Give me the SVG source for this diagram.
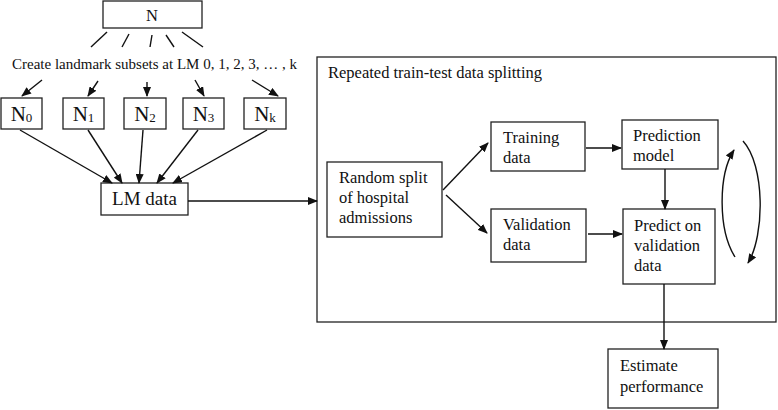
<svg xmlns="http://www.w3.org/2000/svg" width="778" height="410" viewBox="0 0 778 410">
<defs>
<marker id="ah" markerUnits="userSpaceOnUse" markerWidth="10" markerHeight="8" refX="9" refY="4" orient="auto">
<path d="M0,0 L10,4 L0,8 z" fill="#111"/>
</marker>
<style>
.box{fill:#fff;stroke:#222;stroke-width:1.3}
.t{font-family:"Liberation Serif","Times New Roman",serif;font-size:16.5px;fill:#111}
.big{font-size:21px}
.sub{font-size:13px}
.ln{stroke:#111;stroke-width:1.4;fill:none}
.ar{stroke:#111;stroke-width:1.4;fill:none;marker-end:url(#ah)}
</style>
</defs>
<rect width="778" height="410" fill="#fff"/>

<g id="container">
<rect class="box" x="317" y="57" width="459" height="265"/>
<text class="t" x="328" y="78">Repeated train-test data splitting</text>
</g>

<g id="node-N">
<rect class="box" x="103" y="1" width="99" height="27"/>
<text class="t" x="152" y="21" text-anchor="middle" style="font-size:16.5px">N</text>
</g>

<g id="label-create">
<text class="t" x="12" y="69" style="font-size:15px">Create landmark subsets at LM 0, 1, 2, 3, … , k</text>
</g>

<g id="node-N0">
<rect class="box" x="1" y="98" width="41" height="31"/>
<text class="t big" x="21.5" y="121" text-anchor="middle">N<tspan class="sub" dy="1">0</tspan></text>
</g>
<g id="node-N1">
<rect class="box" x="63" y="98" width="41" height="31"/>
<text class="t big" x="83.5" y="121" text-anchor="middle">N<tspan class="sub" dy="1">1</tspan></text>
</g>
<g id="node-N2">
<rect class="box" x="124" y="98" width="42" height="31"/>
<text class="t big" x="145" y="121" text-anchor="middle">N<tspan class="sub" dy="1">2</tspan></text>
</g>
<g id="node-N3">
<rect class="box" x="183" y="98" width="41" height="31"/>
<text class="t big" x="203.5" y="121" text-anchor="middle">N<tspan class="sub" dy="1">3</tspan></text>
</g>
<g id="node-Nk">
<rect class="box" x="244" y="98" width="42" height="31"/>
<text class="t big" x="265" y="121" text-anchor="middle">N<tspan class="sub" dy="1">k</tspan></text>
</g>

<g id="node-lmdata">
<rect class="box" x="101" y="183" width="87" height="32"/>
<text class="t" x="144.5" y="205" text-anchor="middle" style="font-size:19px">LM data</text>
</g>

<g id="node-random">
<rect class="box" x="327" y="162" width="115" height="75"/>
<text class="t" x="339" y="183">Random split</text>
<text class="t" x="339" y="203">of hospital</text>
<text class="t" x="339" y="223">admissions</text>
</g>

<g id="node-training">
<rect class="box" x="491" y="122" width="94" height="49"/>
<text class="t" x="503" y="143">Training</text>
<text class="t" x="503" y="163">data</text>
</g>

<g id="node-validation">
<rect class="box" x="491" y="209" width="95" height="53"/>
<text class="t" x="503" y="230">Validation</text>
<text class="t" x="503" y="250">data</text>
</g>

<g id="node-model">
<rect class="box" x="622" y="120" width="96" height="49"/>
<text class="t" x="633" y="141">Prediction</text>
<text class="t" x="633" y="161">model</text>
</g>

<g id="node-predict">
<rect class="box" x="623" y="209" width="92" height="75"/>
<text class="t" x="634" y="231">Predict on</text>
<text class="t" x="634" y="251">validation</text>
<text class="t" x="634" y="271">data</text>
</g>

<g id="node-estimate">
<rect class="box" x="608" y="349" width="110" height="59"/>
<text class="t" x="620" y="371">Estimate</text>
<text class="t" x="620" y="392">performance</text>
</g>

<g id="connectors">
<line class="ln" x1="107" y1="32" x2="91" y2="47"/>
<line class="ln" x1="129" y1="34" x2="122" y2="47"/>
<line class="ln" x1="152" y1="35" x2="150" y2="47"/>
<line class="ln" x1="166" y1="35" x2="174" y2="47"/>
<line class="ln" x1="182" y1="32" x2="203" y2="47"/>

<line class="ar" x1="42" y1="80" x2="22" y2="96"/>
<line class="ar" x1="98" y1="81" x2="88" y2="96"/>
<line class="ar" x1="147" y1="82" x2="147" y2="96"/>
<line class="ar" x1="195" y1="80" x2="204" y2="96"/>
<line class="ar" x1="252" y1="80" x2="278" y2="96"/>

<line class="ar" x1="20" y1="130" x2="112" y2="183"/>
<line class="ar" x1="88" y1="130" x2="122" y2="183"/>
<line class="ar" x1="143" y1="130" x2="139" y2="183"/>
<line class="ar" x1="198" y1="130" x2="157" y2="183"/>
<line class="ar" x1="267" y1="130" x2="173" y2="183"/>

<line class="ar" x1="188" y1="201" x2="317" y2="201"/>

<line class="ar" x1="443" y1="190" x2="488" y2="143"/>
<line class="ar" x1="446" y1="195" x2="487" y2="233"/>
<line class="ar" x1="586" y1="148" x2="621" y2="148"/>
<line class="ar" x1="588" y1="234" x2="622" y2="234"/>
<line class="ar" x1="665" y1="169" x2="665" y2="209"/>
<line class="ar" x1="664" y1="284" x2="664" y2="349"/>

<path class="ar" d="M735,257 C718,230 718,175 734,150"/>
<path class="ar" d="M743,141 C765,165 765,235 748,263"/>
</g>
</svg>
